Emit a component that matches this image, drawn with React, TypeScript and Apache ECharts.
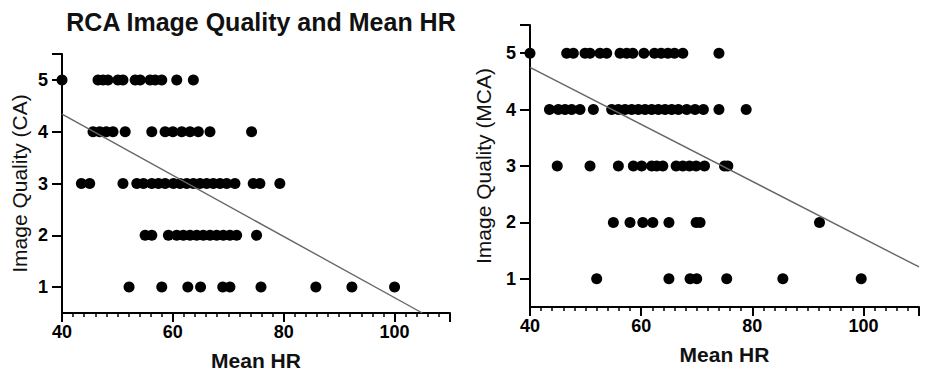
import React, { useEffect, useRef } from "react";
import * as echarts from "echarts";

// Left chart (RCA / CA) points: [Mean HR, Image Quality]
const caQ5 = [40, 46.5, 47.4, 48.3, 50.1, 51.0, 53.2, 54.1, 55.9, 56.8, 58.0, 60.7, 63.7];
const caQ4 = [45.6, 46.8, 48.0, 49.2, 51.4, 56.2, 58.6, 60.0, 61.6, 63.1, 64.6, 66.7, 74.2];
const caQ3 = [43.5, 45.0, 51.0, 53.5, 54.7, 56.2, 57.4, 58.6, 60.1, 61.3, 62.5, 63.7, 64.9, 66.1, 67.3, 68.5, 69.7, 71.2, 74.5, 75.7, 79.3];
const caQ2 = [55.0, 56.2, 59.2, 60.7, 61.9, 63.1, 64.3, 65.5, 66.7, 67.9, 69.1, 70.3, 71.5, 75.1];
const caQ1 = [52.1, 58.0, 62.7, 65.0, 69.0, 70.3, 75.9, 85.8, 92.3, 100.0];
const caFit = [[40, 4.34], [105, 0.5]];

// Right chart (MCA) points
const mcaQ5 = [40, 46.6, 47.8, 49.9, 50.8, 52.6, 53.8, 56.2, 57.4, 58.5, 60.5, 62.4, 63.6, 64.8, 66.0, 67.5, 74.0];
const mcaQ4 = [43.5, 45.1, 46.3, 47.5, 49.0, 51.4, 54.7, 55.9, 57.1, 58.3, 59.5, 60.7, 61.9, 63.1, 64.3, 65.5, 66.7, 68.2, 69.7, 71.2, 74.0, 78.9];
const mcaQ3 = [44.9, 50.8, 55.9, 58.6, 60.1, 61.9, 62.8, 63.9, 66.3, 67.5, 68.7, 69.9, 71.4, 75.0, 75.6];
const mcaQ2 = [55.0, 58.0, 60.3, 62.1, 65.0, 69.9, 70.6, 92.1];
const mcaQ1 = [52.0, 65.0, 68.8, 70.0, 75.4, 85.5, 99.6];
const mcaFit = [[40, 4.75], [110, 1.21]];

const xLabels = [40, 60, 80, 100];
const xMajorTicks = [40, 60, 80, 100, 110];
const yLabels = [1, 2, 3, 4, 5];
const yTicks = [1, 2, 3, 4, 5, 5.5];

const FONT = "Liberation Sans, Arial, sans-serif";

function toPoints(rows: number[][]): number[][] {
  const pts: number[][] = [];
  rows.forEach((row, i) => {
    const q = 5 - i;
    row.forEach((x) => pts.push([x, q]));
  });
  return pts;
}

function xAxes(gridIndex: number) {
  return [
    {
      type: "value",
      gridIndex,
      position: "bottom",
      min: 40,
      max: 110,
      interval: 2,
      axisLine: { show: true, onZero: false, lineStyle: { color: "#000", width: 2 } },
      axisTick: { show: true, length: 4, lineStyle: { color: "#000", width: 1.5 } },
      axisLabel: {
        customValues: xLabels,
        color: "#000",
        fontSize: 18,
        fontWeight: "bold",
        fontFamily: FONT,
        margin: 10,
      },
      splitLine: { show: false },
      name: "Mean HR",
      nameLocation: "middle",
      nameGap: 37,
      nameTextStyle: { color: "#111", fontSize: 21, fontWeight: 600, fontFamily: FONT },
    },
    {
      type: "value",
      gridIndex,
      position: "bottom",
      min: 40,
      max: 110,
      interval: 2,
      axisLine: { show: false, onZero: false },
      axisTick: { show: true, customValues: xMajorTicks, length: 9, lineStyle: { color: "#000", width: 2 } },
      axisLabel: { show: false },
      splitLine: { show: false },
    },
  ];
}

function yAxis(gridIndex: number, name: string, nameGap: number) {
  return {
    type: "value",
    gridIndex,
    min: 0.5,
    max: 5.5,
    interval: 0.5,
    axisLine: { show: true, onZero: false, lineStyle: { color: "#000", width: 2 } },
    axisTick: { show: true, customValues: yTicks, length: 10, lineStyle: { color: "#000", width: 2 } },
    axisLabel: {
      customValues: yLabels,
      color: "#000",
      fontSize: 18,
      fontWeight: "bold",
      fontFamily: FONT,
      margin: 14,
    },
    splitLine: { show: false },
    name,
    nameLocation: "middle",
    nameGap,
    nameTextStyle: { color: "#111", fontSize: 21, fontFamily: FONT },
  };
}

export default function App() {
  const ref = useRef<HTMLDivElement>(null);
  useEffect(() => {
    if (!ref.current) return;
    const chart = echarts.init(ref.current, null, { renderer: "svg" });
    const option = {
      animation: false,
      backgroundColor: "#fff",
      title: {
        text: "RCA Image Quality and Mean HR",
        left: 256,
        top: 4,
        textAlign: "center",
        textStyle: { color: "#111", fontSize: 25, fontWeight: "bold", fontFamily: FONT },
      },
      grid: [
        { left: 62, top: 54, width: 388, height: 259 },
        { left: 530, top: 25, width: 389, height: 282 },
      ],
      xAxis: [...xAxes(0), ...xAxes(1)],
      yAxis: [yAxis(0, "Image Quality (CA)", 32), yAxis(1, "Image Quality (MCA)", 36)],
      series: [
        {
          type: "scatter",
          xAxisIndex: 0,
          yAxisIndex: 0,
          symbolSize: 11,
          itemStyle: { color: "#000", opacity: 1 },
          data: toPoints([caQ5, caQ4, caQ3, caQ2, caQ1]),
          z: 3,
        },
        {
          type: "line",
          xAxisIndex: 0,
          yAxisIndex: 0,
          symbol: "none",
          lineStyle: { color: "#666", width: 1.4 },
          data: caFit,
          z: 4,
        },
        {
          type: "scatter",
          xAxisIndex: 2,
          yAxisIndex: 1,
          symbolSize: 11,
          itemStyle: { color: "#000", opacity: 1 },
          data: toPoints([mcaQ5, mcaQ4, mcaQ3, mcaQ2, mcaQ1]),
          z: 3,
        },
        {
          type: "line",
          xAxisIndex: 2,
          yAxisIndex: 1,
          symbol: "none",
          lineStyle: { color: "#666", width: 1.4 },
          data: mcaFit,
          z: 4,
        },
      ],
    };
    chart.setOption(option as any);
    return () => chart.dispose();
  }, []);
  return (
    <div
      ref={ref}
      style={{ position: "fixed", left: 0, top: 0, width: 927, height: 381, background: "#fff" }}
    />
  );
}
